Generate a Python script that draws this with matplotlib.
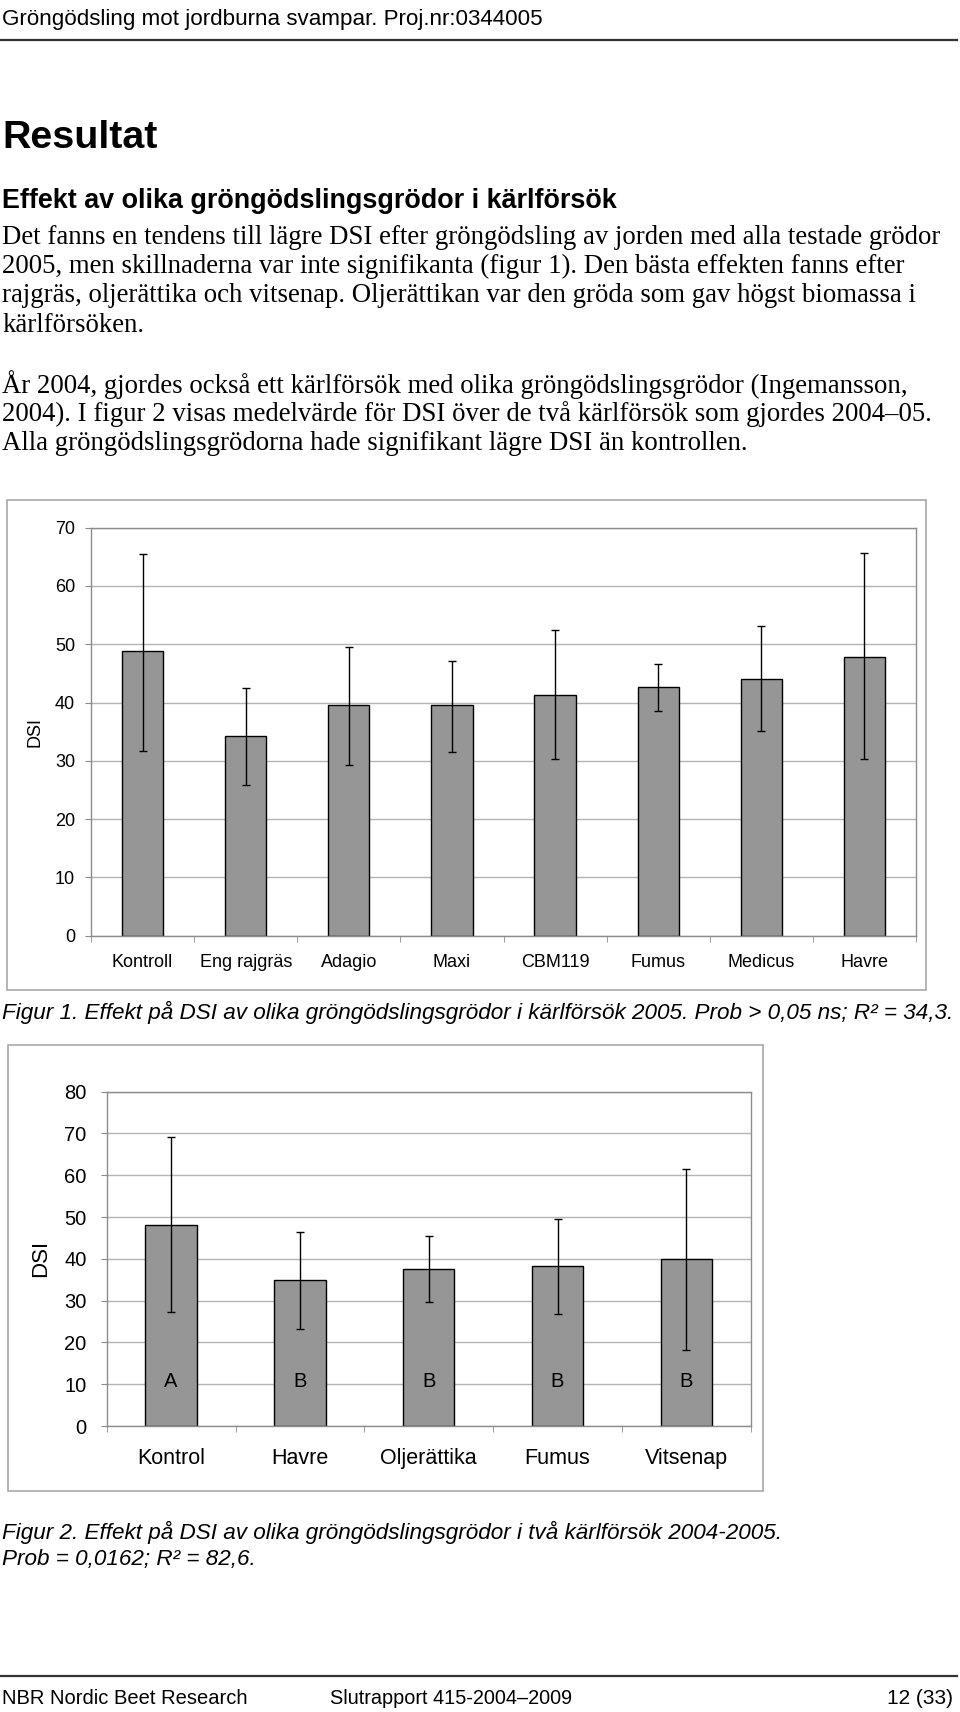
import numpy as np
import matplotlib
matplotlib.use('Agg')
import matplotlib.pyplot as plt
from matplotlib.patches import Rectangle
from matplotlib.lines import Line2D

W, H = 960, 1712

# Figur 1: kärlförsök 2005
fig1_kategorier = ['Kontroll', 'Eng rajgräs', 'Adagio', 'Maxi', 'CBM119', 'Fumus', 'Medicus', 'Havre']
fig1_dsi = [48.8, 34.2, 39.5, 39.5, 41.3, 42.7, 44.1, 47.9]
fig1_fel_lag = [31.7, 25.8, 29.3, 31.5, 30.3, 38.6, 35.2, 30.3]
fig1_fel_hog = [65.5, 42.5, 49.6, 47.2, 52.4, 46.7, 53.2, 65.6]
fig1_yticks = [0, 10, 20, 30, 40, 50, 60, 70]

# Figur 2: medelvärde över två kärlförsök 2004-2005
fig2_kategorier = ['Kontrol', 'Havre', 'Oljerättika', 'Fumus', 'Vitsenap']
fig2_dsi = [48.2, 34.9, 37.6, 38.2, 39.9]
fig2_fel_lag = [27.2, 23.3, 29.6, 26.9, 18.2]
fig2_fel_hog = [69.1, 46.5, 45.5, 49.5, 61.5]
fig2_bokstaver = ['A', 'B', 'B', 'B', 'B']
fig2_yticks = [0, 10, 20, 30, 40, 50, 60, 70, 80]

rubrik = 'Gröngödsling mot jordburna svampar. Proj.nr:0344005'
brodtext_1 = [
    'Det fanns en tendens till lägre DSI efter gröngödsling av jorden med alla testade grödor',
    '2005, men skillnaderna var inte signifikanta (figur 1). Den bästa effekten fanns efter',
    'rajgräs, oljerättika och vitsenap. Oljerättikan var den gröda som gav högst biomassa i',
    'kärlförsöken.',
]
brodtext_2 = [
    'År 2004, gjordes också ett kärlförsök med olika gröngödslingsgrödor (Ingemansson,',
    '2004). I figur 2 visas medelvärde för DSI över de två kärlförsök som gjordes 2004–05.',
    'Alla gröngödslingsgrödorna hade signifikant lägre DSI än kontrollen.',
]
figurtext_1 = 'Figur 1. Effekt på DSI av olika gröngödslingsgrödor i kärlförsök 2005. Prob > 0,05 ns; R² = 34,3.'
figurtext_2 = ['Figur 2. Effekt på DSI av olika gröngödslingsgrödor i två kärlförsök 2004-2005.',
               'Prob = 0,0162; R² = 82,6.']

SANS = ['Liberation Sans', 'DejaVu Sans']
SERIF = ['Liberation Serif', 'DejaVu Serif']
GRID = '#b4b4b4'
AXEL = '#8c8c8c'
STAPEL = '#969696'


def fy(y):
    return 1 - y / H


def px_axes(fig, left, top, right, bottom):
    return fig.add_axes([left / W, fy(bottom), (right - left) / W, (bottom - top) / H])


def ram(fig, left, top, right, bottom):
    fig.patches.append(Rectangle((left / W, fy(bottom)), (right - left) / W, (bottom - top) / H,
                                 transform=fig.transFigure, fill=False,
                                 edgecolor='#a8a8a8', linewidth=1.2))


def stapeldiagram(ax, kategorier, dsi, lag, hog, yticks, tick_fs, kat_fs, ypad, xpad):
    x = np.arange(len(kategorier))
    dsi = np.array(dsi)
    yerr = [dsi - np.array(lag), np.array(hog) - dsi]
    ax.bar(x, dsi, width=0.4, color=STAPEL, edgecolor='black', linewidth=1.0, zorder=2)
    ax.errorbar(x, dsi, yerr=yerr, fmt='none', ecolor='black', elinewidth=1.0,
                capsize=3.2, capthick=1.0, zorder=3)
    ax.set_xlim(-0.5, len(kategorier) - 0.5)
    ax.set_ylim(yticks[0], yticks[-1])
    ax.set_yticks(yticks)
    ax.yaxis.grid(True, color=GRID, linewidth=1.0, zorder=0)
    ax.set_axisbelow(True)
    for s in ax.spines.values():
        s.set_color(AXEL)
        s.set_linewidth(1.0)
    ax.set_xticks(x)
    ax.set_xticklabels(kategorier, fontsize=kat_fs, family=SANS)
    ax.set_xticks(np.arange(len(kategorier) + 1) - 0.5, minor=True)
    ax.tick_params(axis='x', which='major', length=0, pad=xpad)
    ax.tick_params(axis='x', which='minor', length=4.5, color=AXEL, direction='out')
    ax.tick_params(axis='y', length=4.5, color=AXEL, direction='out', pad=ypad,
                   labelsize=tick_fs)
    for t in ax.get_yticklabels():
        t.set_family(SANS)


fig = plt.figure(figsize=(W / 100, H / 100), dpi=100)

# Sidhuvud
fig.text(2 / W, fy(20), rubrik, fontsize=16.1, family=SANS, va='center', ha='left')
fig.add_artist(Line2D([0, 957 / W], [fy(40), fy(40)], color='#333333', linewidth=1.6))

fig.text(2 / W, fy(138), 'Resultat', fontsize=28.4, weight='bold', family=SANS, va='center')
fig.text(2 / W, fy(201), 'Effekt av olika gröngödslingsgrödor i kärlförsök', fontsize=19.4,
         weight='bold', family=SANS, va='center')

for i, rad in enumerate(brodtext_1):
    fig.text(2 / W, fy(237 + i * 29.5), rad, fontsize=19.3, family=SERIF, va='center')
for i, rad in enumerate(brodtext_2):
    fig.text(2 / W, fy(385 + i * 29.5), rad, fontsize=19.3, family=SERIF, va='center')

# Figur 1
ram(fig, 7, 500, 926, 990)
ax1 = px_axes(fig, 91, 527.7, 916, 935.7)
stapeldiagram(ax1, fig1_kategorier, fig1_dsi, fig1_fel_lag, fig1_fel_hog, fig1_yticks,
              tick_fs=13, kat_fs=13, ypad=7, xpad=13)
fig.text(35 / W, fy(732), 'DSI', fontsize=13, family=SANS, rotation=90,
         ha='center', va='center')
fig.text(2 / W, fy(1012), figurtext_1, fontsize=16.2, style='italic', family=SANS, va='center')

# Figur 2
ram(fig, 8, 1045, 763, 1491)
ax2 = px_axes(fig, 106.7, 1091.7, 750.7, 1426)
stapeldiagram(ax2, fig2_kategorier, fig2_dsi, fig2_fel_lag, fig2_fel_hog, fig2_yticks,
              tick_fs=14.5, kat_fs=15.5, ypad=10, xpad=16)
fig.text(41 / W, fy(1258), 'DSI', fontsize=16, family=SANS, rotation=90,
         ha='center', va='center')
for i, b in enumerate(fig2_bokstaver):
    ax2.text(i, 10.6, b, fontsize=14.5, family=SANS, ha='center', va='center', zorder=4)
for i, rad in enumerate(figurtext_2):
    fig.text(2 / W, fy(1532 + i * 27.5), rad, fontsize=16.2, style='italic', family=SANS,
             va='center')

# Sidfot
fig.add_artist(Line2D([0, 957 / W], [fy(1676), fy(1676)], color='#333333', linewidth=1.6))
fig.text(2 / W, fy(1698), 'NBR Nordic Beet Research', fontsize=14.5, family=SANS, va='center')
fig.text(330 / W, fy(1698), 'Slutrapport 415-2004–2009', fontsize=14.3, family=SANS, va='center')
fig.text(953 / W, fy(1698), '12 (33)', fontsize=15, family=SANS, va='center', ha='right')

fig.savefig('out.png', dpi=100)
